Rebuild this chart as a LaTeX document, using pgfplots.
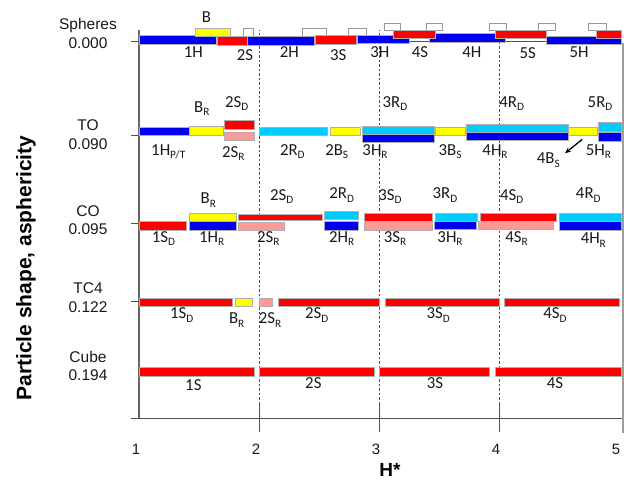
\documentclass[border=0pt]{standalone}
\usepackage{fontspec}
\setmainfont{Carlito}
\newfontfamily\arial{Liberation Sans}
\usepackage{pgfplots}
\pgfplotsset{compat=1.18}
\usetikzlibrary{arrows.meta}

\definecolor{sblue}{RGB}{0,0,238}
\definecolor{sred}{RGB}{255,0,0}
\definecolor{syellow}{RGB}{255,255,0}
\definecolor{scyan}{RGB}{0,204,255}
\definecolor{spink}{RGB}{255,153,153}
\definecolor{sedge}{RGB}{175,175,175}
\definecolor{sgrid}{RGB}{80,80,80}
\definecolor{stext}{RGB}{25,25,25}

% one bar: colour, H* from, H* to, top, bottom
\newcommand{\seg}[5]{\addplot[fill=#1, draw=sedge, line width=0.5pt, mark=none]
  coordinates {(#2,#4) (#3,#4) (#3,#5) (#2,#5)} -- cycle;}
% open (white) bar
\newcommand{\oseg}[4]{\addplot[fill=white, draw=gray!80, line width=0.6pt, mark=none]
  coordinates {(#1,#3) (#2,#3) (#2,#4) (#1,#4)} -- cycle;}
% bar label
\newcommand{\lab}[3]{\node[font=\fontsize{16.8}{17}\selectfont, text=stext, inner sep=0pt] at (axis cs:#1,#2) {#3};}
\newcommand{\sbs}[1]{\raisebox{-3.3pt}{\fontsize{11.3}{11.3}\selectfont #1}}

\begin{document}
\begin{tikzpicture}[x=1pt,y=1pt]
\useasboundingbox (0,0) rectangle (624,482);
\begin{axis}[
  at={(139pt,64pt)}, anchor=south west,
  scale only axis, width=483.6pt, height=388pt,
  xmin=1, xmax=5.03, ymin=0, ymax=388,
  clip=false,
  axis x line*=bottom, axis y line*=left,
  axis line style={draw=sgrid, line width=0.9pt, -},
  y axis line style={draw=gray!80!black, line width=1.3pt},
  xtick={1,2,3,4,5},
  xtick style={draw=none},
  xticklabel style={font=\arial\fontsize{15}{15}\selectfont, text=stext, anchor=center, yshift=-24pt, xshift=-3pt},
  /pgf/number format/assume math mode=true,
  ytick={0,117,194.7,282.3,376.3},
  yticklabels={},
  ytick style={draw=sgrid, line width=0.8pt},
  tick align=outside, major tick length=7.5pt,
]
% guide lines at integer H*
\foreach \h in {2,3,4}{
  \edef\tmp{\noexpand\draw[dash pattern=on 2.5pt off 2pt, sgrid, line width=0.6pt] (axis cs:\h,0) -- (axis cs:\h,388);
  \noexpand\draw[sgrid, line width=0.8pt] (axis cs:\h,15) -- (axis cs:\h,-14);}\tmp
}
\draw[gray!75, line width=2.2pt] (axis cs:5.03,375) -- (axis cs:5.03,-15);

% ---- Spheres, 0.000
\addplot[sgrid, line width=0.8pt, mark=none] coordinates {(3.25,376.5) (4.39,376.5)};
\oseg{1.87}{1.95}{390}{381.3}
\oseg{2.36}{2.56}{390}{381.3}
\oseg{2.74}{2.89}{390}{381.3}
\oseg{3.04}{3.18}{394.7}{387.3}
\oseg{3.39}{3.53}{394.7}{387.3}
\oseg{3.92}{4.06}{394.7}{387.3}
\oseg{4.33}{4.47}{394.7}{387.3}
\oseg{4.74}{4.89}{394.7}{387.3}
\seg{sblue}{1.00}{1.64}{383}{374}
\seg{sblue}{1.90}{2.46}{381.3}{372.3}
\seg{sblue}{2.82}{3.25}{383}{374.7}
\seg{sblue}{3.42}{4.05}{384.7}{375.7}
\seg{sblue}{4.39}{5.02}{382}{373.7}
\seg{syellow}{1.47}{1.76}{389.7}{381.3}
\seg{sred}{1.65}{1.90}{381.3}{372.3}
\seg{sred}{2.47}{2.81}{382.3}{374}
\seg{sred}{3.12}{3.47}{388}{379.7}
\seg{sred}{3.97}{4.39}{388}{379.7}
\seg{sred}{4.81}{5.02}{388}{379.7}
\lab{1.563}{401.3}{B}
\lab{1.453}{366.3}{1H}
\lab{1.883}{363}{2S}
\lab{2.253}{366.3}{2H}
\lab{2.661}{363}{3S}
\lab{3.008}{366.3}{3H}
\lab{3.342}{366.3}{4S}
\lab{3.773}{366.3}{4H}
\lab{4.239}{364.7}{5S}
\lab{4.667}{366.3}{5H}

% ---- TO, 0.090
\seg{sblue}{1.00}{1.42}{290.3}{282.3}
\seg{syellow}{1.42}{1.70}{291.3}{282.7}
\seg{sred}{1.71}{1.96}{297.3}{289}
\seg{spink}{1.71}{1.96}{285.7}{277.3}
\seg{scyan}{2.00}{2.57}{290.7}{282.3}
\seg{syellow}{2.59}{2.84}{290.7}{282.3}
\seg{scyan}{2.86}{3.46}{292}{284}
\seg{sblue}{2.86}{3.46}{284}{275.7}
\seg{syellow}{3.47}{3.72}{290.7}{282.3}
\seg{scyan}{3.73}{4.58}{293.7}{285.3}
\seg{sblue}{3.73}{4.58}{285.3}{277.3}
\seg{syellow}{4.58}{4.82}{290.7}{282.3}
\seg{scyan}{4.83}{5.02}{295.3}{286.3}
\seg{sblue}{4.83}{5.02}{285.3}{277}
\lab{1.523}{309.7}{B\sbs{R}}
\lab{1.814}{314.7}{2S\sbs{D}}
\lab{3.133}{314.7}{3R\sbs{D}}
\lab{4.106}{314.7}{4R\sbs{D}}
\lab{4.842}{314.7}{5R\sbs{D}}
\lab{1.244}{266.3}{1H\sbs{P/T}}
\lab{1.786}{264.7}{2S\sbs{R}}
\lab{2.278}{266.3}{2R\sbs{D}}
\lab{2.648}{266.3}{2B\sbs{S}}
\lab{2.967}{266.3}{3H\sbs{R}}
\lab{3.592}{266.3}{3B\sbs{S}}
\lab{3.967}{266.3}{4H\sbs{R}}
\lab{4.411}{258}{4B\sbs{S}}
\lab{4.828}{266.3}{5H\sbs{R}}
\draw[-{Stealth[length=6pt,width=5pt]}, line width=1.3pt, black] (axis cs:4.694,278.7) -- (axis cs:4.55,264.7);

% ---- CO, 0.095
\seg{sred}{1.00}{1.39}{196.3}{188}
\seg{syellow}{1.42}{1.81}{204.7}{196.3}
\seg{sblue}{1.42}{1.81}{196.3}{188}
\seg{sred}{1.83}{2.53}{204}{197.3}
\seg{spink}{1.83}{2.21}{195.7}{188}
\seg{scyan}{2.54}{2.83}{206.3}{198.7}
\seg{sblue}{2.54}{2.83}{196.3}{188}
\seg{sred}{2.88}{3.44}{204.7}{196.3}
\seg{spink}{2.88}{3.44}{196.3}{188}
\seg{scyan}{3.47}{3.82}{204.7}{196.3}
\seg{sblue}{3.46}{3.81}{196.3}{188.7}
\seg{sred}{3.84}{4.48}{204.7}{196.3}
\seg{spink}{3.83}{4.45}{196.3}{188.7}
\seg{scyan}{4.50}{5.02}{204.7}{196.3}
\seg{sblue}{4.50}{5.02}{196.3}{188}
\lab{1.578}{218}{B\sbs{R}}
\lab{2.189}{221.3}{2S\sbs{D}}
\lab{2.689}{223}{2R\sbs{D}}
\lab{3.092}{221.3}{3S\sbs{D}}
\lab{3.550}{223}{3R\sbs{D}}
\lab{4.106}{221.3}{4S\sbs{D}}
\lab{4.744}{223}{4R\sbs{D}}
\lab{1.203}{179.7}{1S\sbs{D}}
\lab{1.606}{179.7}{1H\sbs{R}}
\lab{2.078}{179.7}{2S\sbs{R}}
\lab{2.689}{179.7}{2H\sbs{R}}
\lab{3.133}{179.7}{3S\sbs{R}}
\lab{3.592}{179.7}{3H\sbs{R}}
\lab{4.147}{179.7}{4S\sbs{R}}
\lab{4.786}{178}{4H\sbs{R}}

% ---- TC4, 0.122
\seg{sred}{1.00}{1.78}{119.7}{111.3}
\seg{syellow}{1.80}{1.94}{119.7}{111.3}
\seg{spink}{2.00}{2.11}{119.7}{111.3}
\seg{sred}{2.16}{3.00}{119.7}{111.3}
\seg{sred}{3.05}{4.00}{119.7}{111.3}
\seg{sred}{4.04}{5.00}{119.7}{111.3}
\lab{1.356}{103}{1S\sbs{D}}
\lab{1.814}{98}{B\sbs{R}}
\lab{2.092}{98}{2S\sbs{R}}
\lab{2.481}{103}{2S\sbs{D}}
\lab{3.494}{103}{3S\sbs{D}}
\lab{4.467}{103}{4S\sbs{D}}

% ---- Cube, 0.194
\seg{sred}{1.00}{1.96}{50.7}{42}
\seg{sred}{2.00}{2.96}{50.7}{42}
\seg{sred}{3.00}{3.92}{50.7}{42}
\seg{sred}{3.97}{5.02}{50.7}{42}
\lab{1.453}{33}{1S}
\lab{2.453}{35}{2S}
\lab{3.467}{35}{3S}
\lab{4.467}{35}{4S}

% ---- shape names and asphericity
\begin{scope}[every node/.style={font=\arial\fontsize{15.5}{18.5}\selectfont, text=stext, align=center, inner sep=0pt}]
\node at (axis cs:0.575,384.7) {Spheres\\0.000};
\node at (axis cs:0.575,283.5) {TO\\0.090};
\node at (axis cs:0.575,198) {CO\\0.095};
\node at (axis cs:0.575,120.5) {TC4\\0.122};
\node at (axis cs:0.575,52) {Cube\\0.194};
\end{scope}
\node[rotate=90, font=\arial\bfseries\fontsize{21}{21}\selectfont, inner sep=0pt] at (axis cs:0.058,150) {Particle shape, asphericity};
\node[font=\arial\bfseries\fontsize{19}{19}\selectfont, inner sep=0pt] at (axis cs:3.092,-52) {H*};
\end{axis}
\end{tikzpicture}
\end{document}
